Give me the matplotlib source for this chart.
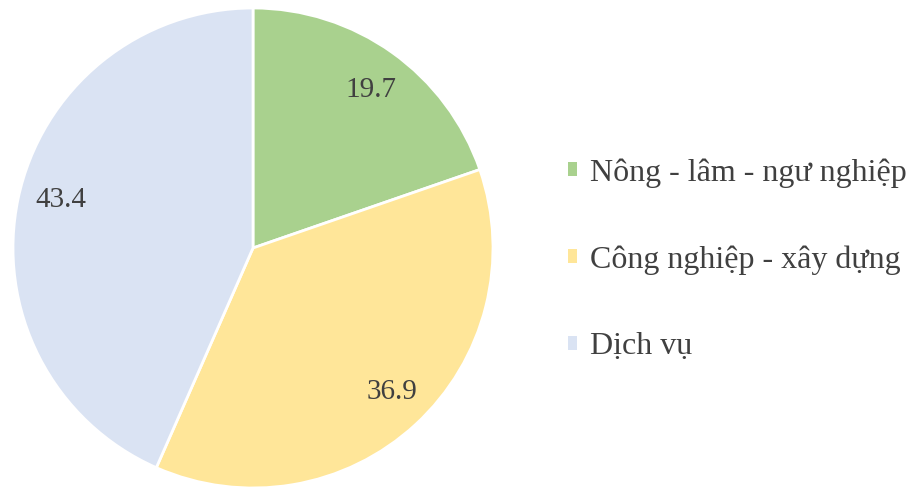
import matplotlib.pyplot as plt
from matplotlib.patches import Patch

sectors = ['Nông - lâm - ngư nghiệp', 'Công nghiệp - xây dựng', 'Dịch vụ']
shares = [19.7, 36.9, 43.4]
colors = ['#a9d18e', '#ffe699', '#dae3f3']
# label positions inside the wedges (fraction of radius)
label_pos = [(0.49, 0.66), (0.58, -0.60), (-0.80, 0.20)]

plt.rcParams['font.family'] = ['Liberation Serif', 'DejaVu Serif']

fig = plt.figure(figsize=(9.06, 4.9), dpi=100)
ax = fig.add_axes([13 / 906, 2 / 490, 480 / 906, 480 / 490])

wedges, _ = ax.pie(shares, colors=colors, startangle=90, counterclock=False,
                   wedgeprops=dict(edgecolor='white', linewidth=2))
for val, (x, y) in zip(shares, label_pos):
    ax.text(x, y, f'{val}', ha='center', va='center', fontsize=21, color='#404040')
ax.set_xlim(-1, 1)
ax.set_ylim(-1, 1)
ax.set_aspect('equal')

handles = [Patch(facecolor=c, edgecolor='none') for c in colors]
fig.legend(handles, sectors, loc='center left', bbox_to_anchor=(555 / 906, 0.47),
           frameon=False, fontsize=23, labelcolor='#404040',
           handlelength=0.28, handleheight=0.28, handletextpad=0.4,
           labelspacing=1.8, borderaxespad=0)

fig.savefig('out.png', dpi=100)
